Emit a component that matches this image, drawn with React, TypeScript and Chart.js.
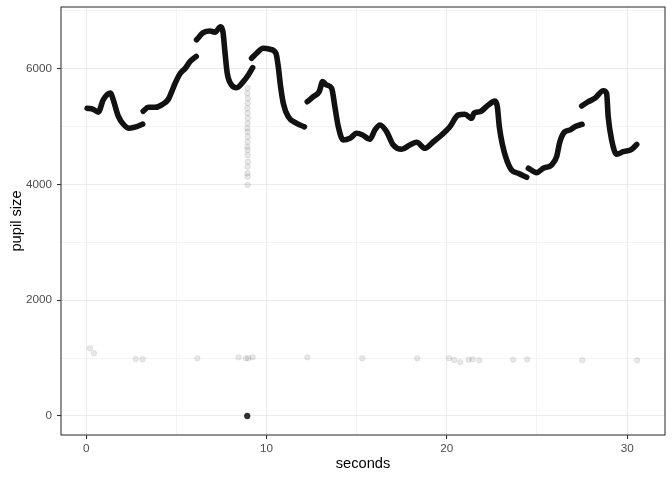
import { useEffect, useRef } from 'react';
import { Chart, registerables } from 'chart.js';

Chart.register(...registerables);

const FONT = "'Liberation Sans', Arial, Helvetica, sans-serif";

// axis ticks (major + minor grid positions)
const xTicks = [0, 5, 10, 15, 20, 25, 30];
const yTicks = [0, 1000, 2000, 3000, 4000, 5000, 6000, 7000];
const xLabelStep = 10;
const yLabelStep = 2000;

// pupil-size trace, contiguous recording segments [seconds, pupil size]
const seg1 = [[0.05, 5316], [0.39, 5299], [0.67, 5250], [0.94, 5460], [1.35, 5580], [1.5, 5460], [1.77, 5185], [2.05, 5045], [2.38, 4971], [2.8, 4998], [3.13, 5042]];
const seg2 = [[3.16, 5265], [3.44, 5333], [3.81, 5333], [4.18, 5373], [4.55, 5470], [4.74, 5603], [4.92, 5740], [5.2, 5912], [5.5, 6010], [5.75, 6121], [6.1, 6212]];
const seg3 = [[6.12, 6500], [6.49, 6622], [6.86, 6652], [7.14, 6630], [7.45, 6726], [7.58, 6640], [7.69, 6300], [7.82, 5921], [8.06, 5719], [8.34, 5672], [8.71, 5776], [8.99, 5891], [9.23, 6018]];
const seg4 = [[9.17, 6180], [9.45, 6267], [9.82, 6353], [10.19, 6336], [10.52, 6267], [10.65, 6035], [10.78, 5689], [10.93, 5403], [11.2, 5171], [11.67, 5057], [12.1, 4995]];
const seg5 = [[12.26, 5430], [12.59, 5516], [12.92, 5603], [13.11, 5776], [13.33, 5719], [13.61, 5662], [13.79, 5344], [13.98, 4998], [14.25, 4769], [14.63, 4798], [15.0, 4884], [15.33, 4855], [15.73, 4780], [16.01, 4941], [16.29, 5028], [16.66, 4912], [17.03, 4682], [17.49, 4608], [17.95, 4682], [18.33, 4729], [18.79, 4625], [19.25, 4739], [19.71, 4855], [20.17, 4998], [20.63, 5200], [21.0, 5212], [21.38, 5143], [21.5, 5230], [21.84, 5258], [22.3, 5373], [22.67, 5440], [22.8, 5344], [22.91, 4998], [23.09, 4680], [23.32, 4423], [23.59, 4250], [23.96, 4193], [24.43, 4124]];
const seg6 = [[24.52, 4280], [24.98, 4204], [25.35, 4280], [25.81, 4337], [26.09, 4480], [26.27, 4739], [26.55, 4912], [26.83, 4941], [27.1, 4998], [27.5, 5040]];
const seg7 = [[27.48, 5356], [27.85, 5430], [28.21, 5489], [28.68, 5620], [28.86, 5575], [28.95, 5171], [29.14, 4769], [29.42, 4521], [29.78, 4567], [30.25, 4608], [30.53, 4690]];
const segments = [seg1, seg2, seg3, seg4, seg5, seg6, seg7];

// faint (sparse) samples: blink column near 9 s
const blinkX = [8.95, 8.94, 8.96, 8.95, 8.94, 8.95, 8.96, 8.95, 8.94, 8.95, 8.96, 8.95, 8.94, 8.95, 8.95, 8.96, 8.95, 8.94, 8.95, 8.95];
const blinkY = [5662, 5575, 5489, 5403, 5316, 5230, 5144, 5057, 4971, 4912, 4826, 4739, 4653, 4596, 4509, 4394, 4307, 4193, 4135, 3991];

// faint low outliers around 1000
const lowX = [0.21, 0.43, 2.74, 3.13, 6.16, 8.45, 8.86, 8.99, 9.23, 12.26, 15.31, 18.36, 20.13, 20.41, 20.74, 21.21, 21.43, 21.8, 23.68, 24.46, 27.51, 30.56];
const lowY = [1170, 1083, 985, 979, 997, 1014, 997, 997, 1014, 1014, 997, 997, 997, 968, 933, 973, 979, 962, 973, 979, 962, 962];

// repeated zero readings
const zeroX = [8.93];
const zeroY = [0];

const panelBorder = {
  id: 'panelBorder',
  afterDraw(chart: any) {
    const { ctx, chartArea } = chart;
    const { left, top, right, bottom } = chartArea;
    ctx.save();
    ctx.strokeStyle = '#333333';
    ctx.lineWidth = 1.07;
    ctx.strokeRect(left, top, right - left, bottom - top);
    ctx.restore();
  },
};

export default function App() {
  const ref = useRef<HTMLCanvasElement>(null);

  useEffect(() => {
    document.body.style.margin = '0';
    const canvas = ref.current;
    if (!canvas) return;

    const curveSets = segments.map((seg) => ({
      type: 'line' as const,
      data: seg.map(([x, y]) => ({ x, y })),
      borderColor: 'rgba(0,0,0,0.93)',
      borderWidth: 5.6,
      borderCapStyle: 'round' as const,
      borderJoinStyle: 'round' as const,
      cubicInterpolationMode: 'monotone' as const,
      pointRadius: 0,
      fill: false,
      order: 0,
    }));

    const faint = (xs: number[], ys: number[]) => xs.map((x, i) => ({ x, y: ys[i] }));

    const chart = new Chart(canvas, {
      type: 'scatter',
      data: {
        datasets: [
          ...curveSets,
          {
            type: 'scatter',
            data: faint(blinkX, blinkY),
            pointRadius: 2.8,
            backgroundColor: 'rgba(0,0,0,0.09)',
            borderColor: 'rgba(0,0,0,0.14)',
            borderWidth: 0.6,
            order: 1,
          } as any,
          {
            type: 'scatter',
            data: faint(lowX, lowY),
            pointRadius: 2.8,
            backgroundColor: 'rgba(0,0,0,0.09)',
            borderColor: 'rgba(0,0,0,0.12)',
            borderWidth: 0.6,
            order: 1,
          } as any,
          {
            type: 'scatter',
            data: faint(zeroX, zeroY),
            pointRadius: 2.9,
            backgroundColor: 'rgba(0,0,0,0.8)',
            borderColor: 'rgba(0,0,0,0.85)',
            borderWidth: 0.5,
            order: 1,
          } as any,
        ] as any,
      },
      options: {
        animation: false,
        responsive: false,
        devicePixelRatio: 1,
        layout: { padding: { top: 7, right: 7, left: 0, bottom: 0 } },
        plugins: { legend: { display: false }, tooltip: { enabled: false } },
        scales: {
          x: {
            type: 'linear',
            min: -1.4,
            max: 32.1,
            afterBuildTicks: (s: any) => {
              s.ticks = xTicks.map((v) => ({ value: v }));
            },
            afterFit: (s: any) => {
              s.height = 45;
              s.paddingLeft = 0;
              s.paddingRight = 0;
            },
            ticks: {
              autoSkip: false,
              maxRotation: 0,
              padding: 3,
              color: '#4d4d4d',
              font: { family: FONT, size: 11.7 },
              callback: (v: any) => (Number(v) % xLabelStep === 0 ? String(v) : ''),
            },
            grid: {
              color: '#ebebeb',
              lineWidth: (c: any) => (c.tick && c.tick.value % xLabelStep === 0 ? 1.07 : 0.55),
              tickColor: (c: any) => (c.tick && c.tick.value % xLabelStep === 0 ? '#333333' : 'rgba(0,0,0,0)'),
              tickWidth: 1.07,
              tickLength: 4,
            },
            border: { display: false },
            title: {
              display: true,
              text: 'seconds',
              color: '#000000',
              font: { family: FONT, size: 14.67 },
              padding: { top: 0, bottom: 7 },
            },
          },
          y: {
            type: 'linear',
            min: -328,
            max: 7066,
            afterBuildTicks: (s: any) => {
              s.ticks = yTicks.map((v) => ({ value: v }));
            },
            afterFit: (s: any) => {
              s.width = 61;
              s.paddingTop = 0;
              s.paddingBottom = 0;
            },
            ticks: {
              autoSkip: false,
              padding: 5,
              color: '#4d4d4d',
              font: { family: FONT, size: 11.7 },
              callback: (v: any) => (Number(v) % yLabelStep === 0 ? String(v) : ''),
            },
            grid: {
              color: '#ebebeb',
              lineWidth: (c: any) => (c.tick && c.tick.value % yLabelStep === 0 ? 1.07 : 0.55),
              tickColor: (c: any) => (c.tick && c.tick.value % yLabelStep === 0 ? '#333333' : 'rgba(0,0,0,0)'),
              tickWidth: 1.07,
              tickLength: 4,
            },
            border: { display: false },
            title: {
              display: true,
              text: 'pupil size',
              color: '#000000',
              font: { family: FONT, size: 14.67 },
              padding: { top: 8, bottom: 0 },
            },
          },
        },
      } as any,
      plugins: [panelBorder],
    });

    return () => chart.destroy();
  }, []);

  return (
    <div style={{ width: 672, height: 480 }}>
      <canvas ref={ref} width={672} height={480} style={{ display: 'block', width: 672, height: 480 }} />
    </div>
  );
}
